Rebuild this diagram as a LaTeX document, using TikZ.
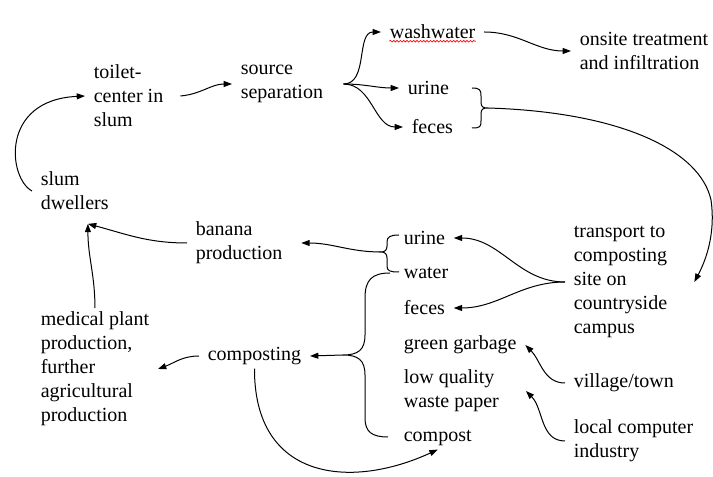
\documentclass[tikz,border=0pt]{standalone}
\usepackage{fontspec}
\setmainfont{Liberation Serif}
\usetikzlibrary{arrows.meta,decorations.pathmorphing}

\begin{document}
\begin{tikzpicture}[x=0.6pt,y=-0.6pt,line width=0.6pt,
    every node/.style={font=\fontsize{12}{14.4}\selectfont,align=left,anchor=west,inner xsep=5pt,inner ysep=2pt},
    flow/.style={-{Triangle[length=5pt,width=3.6pt]}}]
    \useasboundingbox (0,0) rectangle (713,477);

    \node (toilet) at (85,96) {toilet-\\center in\\slum};
    \node (source) at (232,84) {source\\separation};
    \node (wash) at (381,32) {washwater};
    \node (onsite) at (571,51) {onsite treatment\\and infiltration};
    \node (urineA) at (399,88) {urine};
    \node (fecesA) at (403,127) {feces};
    \node (transport) at (565,282) {transport to\\composting\\site on\\countryside\\campus};
    \node (urineB) at (395,238) {urine};
    \node (waterB) at (395,273) {water};
    \node (fecesB) at (395,308) {feces};
    \node (green) at (395,345) {green garbage};
    \node (paper) at (395,391) {low quality\\waste paper};
    \node (compost) at (395,438) {compost};
    \node (village) at (565,383) {village/town};
    \node (industry) at (565,441) {local computer\\industry};
    \node (composting) at (199,356) {composting};
    \node (banana) at (187,243) {banana\\production};
    \node (medical) at (32,369) {medical plant\\production,\\further\\agricultural\\production};
    \node (slum) at (32,191) {slum\\dwellers};

    \draw[red,line width=0.4pt,decorate,decoration={snake,amplitude=0.5pt,segment length=2pt}]
        ([xshift=5pt,yshift=1pt]wash.south west) -- ([xshift=-5pt,yshift=1pt]wash.south east);

    \coordinate (sepfork) at ([xshift=7pt]source.east);
    \coordinate (brA) at (488,108);
    \coordinate (brB) at (381,252);
    \coordinate (brC) at (343,355);
    \coordinate (dwin) at ([yshift=-6pt]slum.-60);

    \draw (472,88) .. controls (480,88) and (481,90) .. (481,96) -- (481,102) .. controls (481,107) and (483,108) .. (brA)
        .. controls (483,108) and (481,109) .. (481,114) -- (481,121) .. controls (481,127) and (480,128) .. (472,128);
    \draw (399,235) .. controls (390,235) and (387,237) .. (387,242) -- (387,246) .. controls (387,250) and (385,252) .. (brB)
        .. controls (385,252) and (387,254) .. (387,258) -- (387,266) .. controls (387,271) and (390,272) .. (399,272);
    \draw (390,273) .. controls (372,273) and (365,280) .. (365,298) -- (365,335) .. controls (365,350) and (358,355) .. (brC)
        .. controls (358,355) and (365,360) .. (365,375) -- (365,418) .. controls (365,432) and (372,437) .. (388,437);

    \draw[flow] (slum.west) .. controls (8,178) and (0,100) .. (toilet.west);
    \draw[flow] ([xshift=5pt]toilet.east) to[out=5,in=180] (source.west);
    \draw[flow] (sepfork) to[out=0,in=180] (wash.west);
    \draw[flow] (sepfork) to[out=0,in=180] (urineA.west);
    \draw[flow] (sepfork) to[out=0,in=180] (fecesA.west);
    \draw[flow] (wash.east) to[out=0,in=180] (onsite.west);
    \draw[flow] (brA) .. controls (620,112) and (700,150) .. (711,200)
        .. controls (716,235) and (705,262) .. ([xshift=11pt]transport.east);
    \draw[flow] (transport.west) to[out=180,in=0] (urineB.east);
    \draw[flow] (transport.west) to[out=180,in=0] (fecesB.east);
    \draw[flow] (village.west) to[out=180,in=-45] (green.east);
    \draw[flow] (industry.west) to[out=180,in=-45] ([xshift=11pt]paper.east);
    \draw[flow] (brB) to[out=180,in=0] ([xshift=6pt]banana.east);
    \draw[flow] (brC) -- (composting.east);
    \draw[flow] (composting.west) to[out=180,in=20] (medical.east);
    \draw[flow] (composting.south) .. controls (254,480) and (350,490) .. (compost.south);
    \draw[flow] (medical.north) to[out=90,in=-90] (dwin);
    \draw[flow] (banana.west) to[out=180,in=-15] (dwin);
\end{tikzpicture}
\end{document}
